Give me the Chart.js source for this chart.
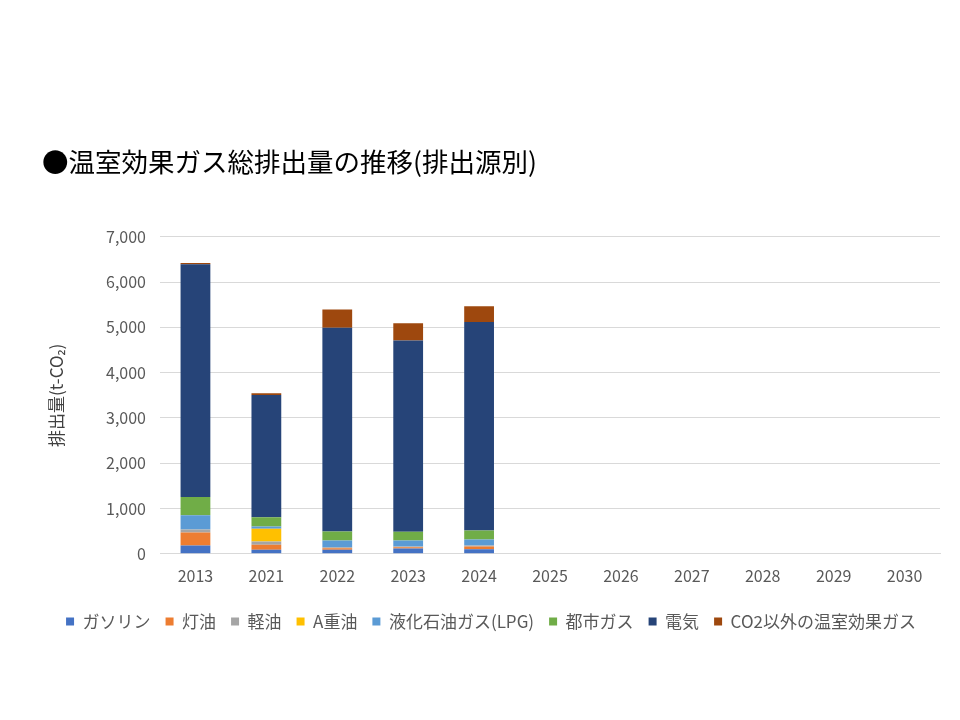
<!DOCTYPE html>
<html>
<head>
<meta charset="utf-8">
<script src="https://cdn.jsdelivr.net/npm/chart.js@4"></script>
<style>
  html, body { margin: 0; padding: 0; background: #fff; }
  #wrap { width: 960px; height: 720px; position: relative; }
</style>
</head>
<body>
<div id="wrap"><canvas id="chart" width="960" height="720"></canvas></div>
<script>
// 年度
const years = ['2013', '2021', '2022', '2023', '2024', '2025', '2026', '2027', '2028', '2029', '2030'];

// 排出源別の排出量 (t-CO2)
const gasoline    = [183, 88, 88, 117, 103, null, null, null, null, null, null];
const kerosene    = [287, 110, 37, 25, 59, null, null, null, null, null, null];
const lightOil    = [66, 74, 22, 20, 20, null, null, null, null, null, null];
const heavyOilA   = [0, 280, 0, 0, 0, null, null, null, null, null, null];
const lpg         = [316, 50, 147, 132, 132, null, null, null, null, null, null];
const cityGas     = [405, 206, 199, 191, 199, null, null, null, null, null, null];
const electricity = [5136, 2700, 4496, 4224, 4606, null, null, null, null, null, null];
const nonCO2      = [30, 37, 405, 383, 346, null, null, null, null, null, null];

const fontFamily = '"Noto Sans CJK JP", "Noto Sans", sans-serif';
const gray = '#595959';

new Chart(document.getElementById('chart').getContext('2d'), {
    type: 'bar',
    data: {
        labels: years,
        datasets: [
            { label: 'ガソリン', data: gasoline, backgroundColor: '#4472C4' },
            { label: '灯油', data: kerosene, backgroundColor: '#ED7D31' },
            { label: '軽油', data: lightOil, backgroundColor: '#A5A5A5' },
            { label: 'A重油', data: heavyOilA, backgroundColor: '#FFC000' },
            { label: '液化石油ガス(LPG)', data: lpg, backgroundColor: '#5B9BD5' },
            { label: '都市ガス', data: cityGas, backgroundColor: '#70AD47' },
            { label: '電気', data: electricity, backgroundColor: '#264478' },
            { label: 'CO2以外の温室効果ガス', data: nonCO2, backgroundColor: '#9E480E' }
        ]
    },
    options: {
        responsive: false,
        animation: false,
        datasets: { bar: { barPercentage: 0.42, categoryPercentage: 1.0 } },
        layout: { padding: { top: 146, left: 42, right: 20, bottom: 80 } },
        scales: {
            x: {
                stacked: true,
                grid: { display: false },
                border: { display: true, color: '#d9d9d9' },
                ticks: { color: gray, font: { family: fontFamily, size: 16 }, padding: 5 },
                afterFit: scale => { scale.height += 7; }
            },
            y: {
                stacked: true,
                min: 0,
                max: 7000,
                ticks: {
                    stepSize: 1000,
                    color: gray,
                    padding: 14,
                    font: { family: fontFamily, size: 16 },
                    callback: v => v.toLocaleString('en-US')
                },
                grid: { color: '#d9d9d9', lineWidth: 1, drawTicks: false },
                border: { display: false },
                title: {
                    display: true,
                    text: '排出量(t-CO₂)',
                    color: '#404040',
                    font: { family: fontFamily, size: 17 },
                    padding: { bottom: 0 }
                },
                afterFit: scale => { scale.width = 118; }
            }
        },
        plugins: {
            title: {
                display: true,
                text: '●温室効果ガス総排出量の推移(排出源別)',
                align: 'start',
                color: '#000',
                font: { family: fontFamily, size: 26.5, weight: 'normal' },
                padding: { top: 0, bottom: 59 }
            },
            legend: {
                position: 'bottom',
                labels: {
                    boxWidth: 8,
                    boxHeight: 8,
                    padding: 15,
                    color: gray,
                    font: { family: fontFamily, size: 17 }
                }
            },
            tooltip: { enabled: false }
        }
    }
});
</script>
</body>
</html>
